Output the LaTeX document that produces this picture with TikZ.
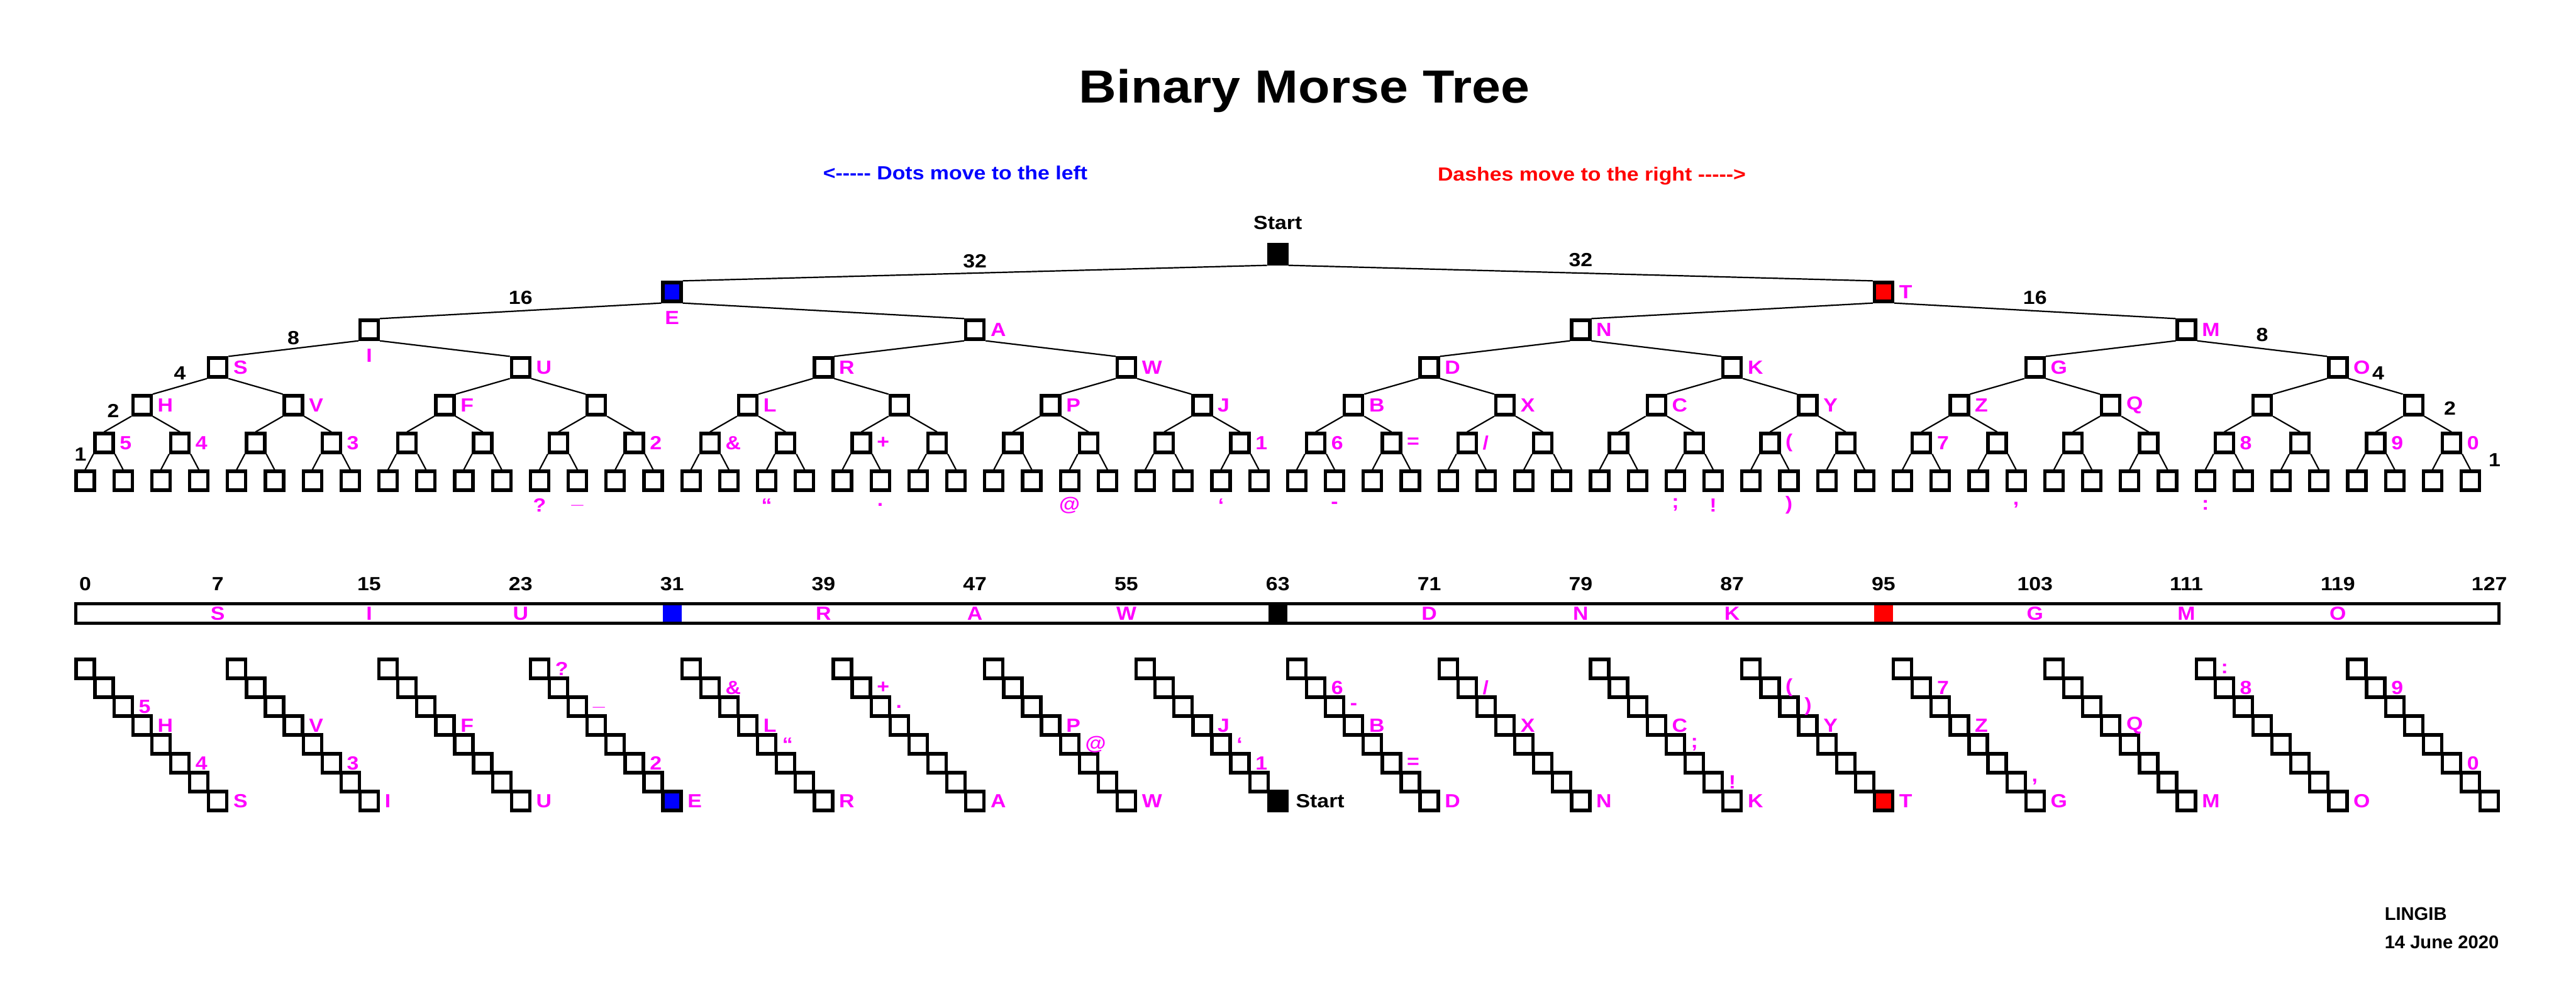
\documentclass[tikz,border=0pt]{standalone}
\usepackage{fontspec}
\setmainfont{Liberation Sans}
\newfontfamily\lblfont[FakeStretch=1.12,Ligatures=TeXOff]{Liberation Sans}
\usetikzlibrary{positioning}
\definecolor{mag}{HTML}{FF00FF}
\tikzset{
  box_n/.style = {draw, fill=white, line width=0.053cm, minimum width=0.29cm, minimum height=0.30cm, inner sep=0pt},
  hl_31/.style = {fill=blue},
  hl_63/.style = {fill=black},
  hl_95/.style = {fill=red},
  edge_n/.style = {line width=0.022cm},
  txt/.style = {inner sep=0pt, font=\lblfont\bfseries\fontsize{8.6}{10}\selectfont},
  lbl_m/.style = {txt, text=mag},
  num_k/.style = {txt, text=black},
  title_t/.style = {inner sep=0pt, font=\lblfont\bfseries\fontsize{21}{25}\selectfont},
  sig_t/.style = {inner sep=0pt, anchor=base west, font=\bfseries\fontsize{8.3}{10}\selectfont},
  cell_n/.style = {inner sep=0pt, minimum width=0.301cm, minimum height=0.31cm},
  bar_n/.style = {draw, line width=0.053cm, minimum width=38.53cm, minimum height=0.31cm, inner sep=0pt}
}

\begin{document}
\begin{tikzpicture}
  \fill[white] (0,-16.01) rectangle (40.96,0);
  \useasboundingbox (0,-16.01) rectangle (40.96,0);

  \node[title_t, anchor=base] (title) at (20.74,-1.63) {Binary Morse Tree};
  \node[txt, text=blue, anchor=base] (dots) at (15.19,-2.85) {<----- Dots move to the left};
  \node[txt, text=red, anchor=base] (dashes) at (25.31,-2.87) {Dashes move to the right ----->};

  \foreach \lv/\nn/\ss in {0/1/128,1/2/64,2/4/32,3/8/16,4/16/8,5/32/4,6/64/2}
    \foreach \jj in {1,...,\nn} {
      \pgfmathtruncatemacro\m{\ss/2-1+(\jj-1)*\ss}
      \node[box_n, hl_\m/.try] (t\m) at ({1.355+0.301*\m},{-4.04-0.6*\lv}) {};
    }
  \foreach \lv/\nn/\ss/\ea/\eb in {0/1/128/north east/north west,1/2/64/north east/north west,2/4/32/north east/north west,3/8/16/north east/north west,4/16/8/north/north,5/32/4/north/north}
    \foreach \jj in {1,...,\nn} {
      \pgfmathtruncatemacro\pa{\ss/2-1+(\jj-1)*\ss}
      \pgfmathtruncatemacro\ka{\pa-\ss/4}
      \pgfmathtruncatemacro\kb{\pa+\ss/4}
      \draw[edge_n] (t\pa.south west) -- (t\ka.\ea);
      \draw[edge_n] (t\pa.south east) -- (t\kb.\eb);
    }

  \node[num_k, above=0.21cm of t63] (start) {Start};
  \path (t63.south west) -- (t31.north east) node[num_k, midway, yshift=0.19cm] (w32a) {32};
  \path (t31.south west) -- (t15.north east) node[num_k, midway, yshift=0.21cm] (w16a) {16};
  \path (t15.south west) -- (t7.north east) node[num_k, midway, yshift=0.17cm] (w8a) {8};
  \path (t7.south west) -- (t3.north east) node[num_k, midway, yshift=0.21cm] (w4a) {4};
  \path (t3.south west) -- (t1.north) node[num_k, midway, xshift=-0.07cm, yshift=0.21cm] (w2a) {2};
  \path (t1.south west) -- (t0.north) node[num_k, midway, xshift=-0.14cm, yshift=0.12cm] (w1a) {1};
  \path (t63.south east) -- (t95.north west) node[num_k, midway, yshift=0.21cm] (w32b) {32};
  \path (t95.south east) -- (t111.north west) node[num_k, midway, yshift=0.21cm] (w16b) {16};
  \path (t111.south east) -- (t119.north west) node[num_k, midway, yshift=0.22cm] (w8b) {8};
  \path (t119.south east) -- (t123.north west) node[num_k, midway, xshift=0.04cm, yshift=0.21cm] (w4b) {4};
  \path (t123.south east) -- (t125.north) node[num_k, midway, xshift=0.19cm, yshift=0.25cm] (w2b) {2};
  \path (t125.south east) -- (t126.north) node[num_k, midway, xshift=0.45cm, yshift=0.03cm] (w1b) {1};

  \foreach \m/\tx in {95/T, 47/A, 79/N, 111/M, 7/S, 23/U, 39/R, 55/W, 71/D, 87/K, 103/G, 119/O,
      3/H, 11/V, 19/F, 35/L, 51/P, 59/J, 67/B, 75/X, 83/C, 91/Y, 99/Z, 107/Q,
      1/5, 5/4, 13/3, 29/2, 33/\&, 41/+, 61/1, 65/6, 69/=, 73/{/}, 89/{(}, 97/7, 113/8, 121/9, 125/0}
    \node[lbl_m, right=0.07cm of t\m] (l\m) {\tx};
  \node[lbl_m, below=0.12cm of t31] (l31) {E};
  \node[lbl_m, below=0.12cm of t15] (l15) {I};
  \foreach \m/\tx in {24/?, 26/\_, 36/“, 42/., 52/@, 60/‘, 66/-, 84/;, 86/!, 90/{)}, 102/{,}, 112/:}
    \node[lbl_m] (l\m) at ([yshift=-0.21cm]t\m.south) {\tx};

  \foreach \m in {0,7,15,...,127}
    \node[num_k] (k\m) at ({1.355+0.301*\m},-9.28) {\m};
  \node[cell_n, fill=blue] (c31) at ({1.355+0.301*31},-9.75) {};
  \node[cell_n, fill=black] (c63) at ({1.355+0.301*63},-9.75) {};
  \node[cell_n, fill=red] (c95) at ({1.355+0.301*95},-9.75) {};
  \node[bar_n] (bar) at (20.47,-9.75) {};
  \foreach \m/\tx in {7/S, 15/I, 23/U, 39/R, 47/A, 55/W, 71/D, 79/N, 87/K, 103/G, 111/M, 119/O}
    \node[lbl_m] (b\m) at ({1.355+0.301*\m},-9.75) {\tx};

  \foreach \m in {0,...,127}
    \node[box_n, hl_\m/.try] (s\m) at ({1.355+0.301*\m},{-10.63-0.3*mod(\m,8)}) {};
  \foreach \m/\tx in {2/5, 3/H, 5/4, 7/S, 11/V, 13/3, 15/I, 19/F, 23/U, 24/?, 26/\_, 29/2, 31/E,
      33/\&, 35/L, 36/“, 39/R, 41/+, 42/., 47/A, 51/P, 52/@, 55/W, 59/J, 60/‘, 61/1,
      65/6, 66/-, 67/B, 69/=, 71/D, 73/{/}, 75/X, 79/N, 83/C, 84/;, 86/!, 87/K,
      89/{(}, 90/{)}, 91/Y, 95/T, 97/7, 99/Z, 102/{,}, 103/G, 107/Q, 111/M,
      112/:, 113/8, 119/O, 121/9, 125/0}
    \node[lbl_m, right=0.07cm of s\m] (sl\m) {\tx};
  \node[num_k, right=0.11cm of s63] (sl63) {Start};

  \node[sig_t] (who) at (37.91,-14.62) {LINGIB};
  \node[sig_t] (when) at (37.91,-15.07) {14 June 2020};
\end{tikzpicture}
\end{document}
